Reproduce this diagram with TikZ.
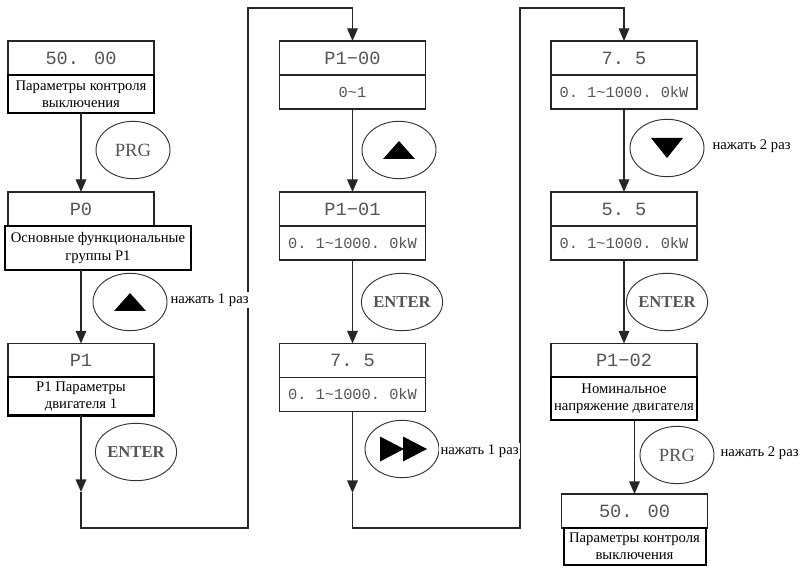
\documentclass[tikz,border=0pt]{standalone}
\usepackage{fontspec}
\setmainfont{Liberation Serif}
\newfontfamily\lcdfont{Liberation Mono}
\usepackage{tikz}
\usetikzlibrary{shapes.geometric, arrows.meta, positioning}
\definecolor{lcdgray}{RGB}{85,85,85}
\tikzstyle{valbox} = [rectangle, draw=black!85, line width=0.8pt, minimum width=109.5pt, minimum height=25.5pt,
    inner sep=0pt, outer sep=0pt, text=lcdgray, font=\lcdfont\fontsize{14}{16}\selectfont]
\tikzstyle{rngbox} = [valbox, font=\lcdfont\fontsize{11.5}{13}\selectfont]
\tikzstyle{lblbox} = [rectangle, draw=black, line width=1.5pt, minimum width=110pt, minimum height=28.5pt,
    inner sep=1pt, outer sep=0pt, align=center, font=\fontsize{11}{13}\selectfont]
\tikzstyle{btn} = [ellipse, draw=black!80, line width=0.7pt, minimum width=55.5pt, minimum height=43pt,
    inner sep=0pt, text=lcdgray]
\tikzstyle{keyprg} = [btn, font=\fontsize{14}{16}\selectfont]
\tikzstyle{keyenter} = [btn, font=\bfseries\fontsize{12.5}{14}\selectfont]
\tikzstyle{hint} = [anchor=west, fill=white, inner sep=1pt, font=\fontsize{11}{13}\selectfont]
\tikzstyle{arrow} = [line width=1pt, draw=black!85, -{Triangle[width=8pt,length=9.5pt]}]

\begin{document}
\begin{tikzpicture}[x=0.75pt, y=-0.75pt]
  \useasboundingbox (0,0) rectangle (803,573);

  \node (v1)  [valbox] at (81,58) {50. 00};
  \node (l1)  [lblbox, below=0pt of v1] {Параметры контроля\\выключения};
  \node (v2)  [valbox] at (81,209) {P0};
  \node (l2)  [lblbox, minimum width=139.5pt, minimum height=33pt, anchor=north west]
      at ([xshift=-2.25pt]v2.south west) {Основные функциональные\\группы P1};
  \node (v3)  [valbox] at (81,360.5) {P1};
  \node (l3)  [lblbox, below=0pt of v3] {P1 Параметры\\двигателя 1};

  \node (v4)  [valbox] at (352.5,58) {P1−00};
  \node (r4)  [rngbox, below=0pt of v4] {0\textasciitilde1};
  \node (v5)  [valbox] at (352.5,209) {P1−01};
  \node (r5)  [rngbox, below=0pt of v5] {0.~1\textasciitilde1000.~0kW};
  \node (v6)  [valbox] at (352.5,360.5) {7.~5};
  \node (r6)  [rngbox, below=0pt of v6] {0.~1\textasciitilde1000.~0kW};

  \node (v7)  [valbox] at (624,58) {7.~5};
  \node (r7)  [rngbox, below=0pt of v7] {0.~1\textasciitilde1000.~0kW};
  \node (v8)  [valbox] at (624,209) {5.~5};
  \node (r8)  [rngbox, below=0pt of v8] {0.~1\textasciitilde1000.~0kW};
  \node (v9)  [valbox] at (624,360.5) {P1−02};
  \node (l9)  [lblbox, below=0pt of v9, minimum height=31.5pt] {Номинальное\\напряжение двигателя};
  \node (v10) [valbox] at (634.5,511) {50. 00};
  \node (l10) [lblbox, below=0pt of v10, minimum width=106.5pt, minimum height=27.75pt] {Параметры контроля\\выключения};

  \node (prg1) [keyprg]   at (133,150) {PRG};
  \node (up1)  [btn]      at (130,302) {};
  \node (ent1) [keyenter] at (136,452) {ENTER};
  \node (up2)  [btn]      at (399,150) {};
  \node (ent2) [keyenter] at (402,302) {ENTER};
  \node (ff2)  [btn]      at (402,449) {};
  \node (dn3)  [btn]      at (667,148) {};
  \node (ent3) [keyenter] at (667,302) {ENTER};
  \node (prg3) [keyprg]   at (677,455) {PRG};

  \fill[shift={(up1.center)}] (-16,9) -- (16,9) -- (0,-9) -- cycle;
  \fill[shift={(up2.center)}] (-16,9) -- (16,9) -- (0,-9) -- cycle;
  \fill[shift={(dn3.center)}] (-16,-10) -- (16,-10) -- (0,10) -- cycle;
  \fill[shift={(ff2.center)}] (-22,-12.5) -- (-22,12.5) -- (2,0) -- cycle
                              (1,-12.5) -- (1,12.5) -- (25,0) -- cycle;

  \coordinate (t1) at (81,492);
  \coordinate (b1) at (248,8);
  \coordinate (t2) at (352.5,493);
  \coordinate (b2) at (520,8);

  \draw[arrow] (l1) -- (v2);
  \draw[arrow] (l2.south -| v3.north) -- (v3.north);
  \draw[arrow] (l3) -- (t1);
  \draw[arrow] (t1) -- ++(0,36) -| (b1) -| (v4.north);
  \draw[arrow] (r4) -- (v5);
  \draw[arrow] (r5) -- (v6);
  \draw[arrow] (r6) -- (t2);
  \draw[arrow] (t2) -- ++(0,35) -| (b2) -| (v7.north);
  \draw[arrow] (r7) -- (v8);
  \draw[arrow] (r8) -- (v9);
  \draw[arrow] (l9.south -| v10.north) -- (v10.north);

  \node (h1) [hint] at (169,300) {нажать 1 раз};
  \node (h2) [hint] at (439,451) {нажать 1 раз};
  \node (h3) [hint] at (711,146) {нажать 2 раз};
  \node (h4) [hint] at (719,453) {нажать 2 раз};
\end{tikzpicture}
\end{document}
